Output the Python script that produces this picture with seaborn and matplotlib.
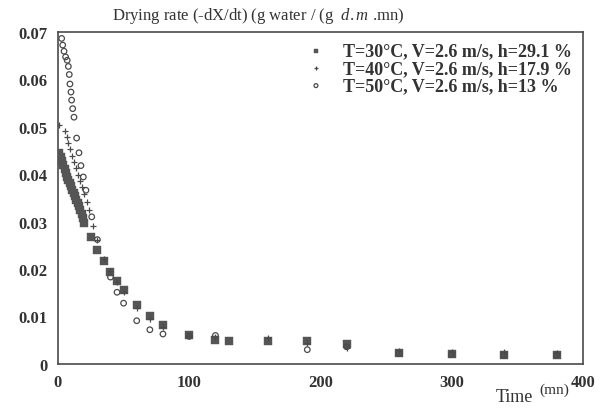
import seaborn as sns
import pandas as pd
import numpy as np
import matplotlib.pyplot as plt

# T=30 C series (filled squares)
t30 = [1, 2, 3, 4, 5, 6, 7, 8, 9, 10, 11, 12, 13, 14, 15, 16, 17, 18, 19, 20,
       25, 30, 35, 40, 45, 50, 60, 70, 80, 100, 120, 130, 160, 190, 220, 260, 300, 340, 380]
r30 = [0.0445, 0.0437, 0.0428, 0.0419, 0.0410, 0.0402, 0.0395, 0.0388, 0.0381, 0.0374,
       0.0367, 0.0360, 0.0353, 0.0346, 0.0339, 0.0332, 0.0325, 0.0317, 0.0308, 0.0296,
       0.0267, 0.0240, 0.0216, 0.0193, 0.0174, 0.0156, 0.0125, 0.0102, 0.0083, 0.0061,
       0.0051, 0.0049, 0.0049, 0.0048, 0.0041, 0.0023, 0.0020, 0.0018, 0.0018]

# T=40 C series (plus)
t40 = [1, 5, 6.5, 8, 9.5, 11, 12.5, 14, 15.5, 17, 18.5, 20, 22, 24, 27, 30, 35, 40, 45, 50,
       60, 70, 80, 100, 120, 160, 190, 220, 260, 300, 340, 380]
r40 = [0.0503, 0.0490, 0.0478, 0.0466, 0.0452, 0.0438, 0.0425, 0.0412, 0.0398, 0.0385,
       0.0372, 0.0358, 0.0341, 0.0325, 0.0290, 0.0262, 0.0222, 0.0195, 0.0172, 0.0152,
       0.0118, 0.0094, 0.0078, 0.0058, 0.0056, 0.0055, 0.0045, 0.0033, 0.0027, 0.0025,
       0.0025, 0.0023]

# T=50 C series (open circles)
t50 = [2.8, 3.6, 4.6, 5.8, 7.0, 7.9, 8.6, 9.1, 9.9, 10.4, 11.2, 12.2, 14.2, 16, 17.5, 19.3,
       21.3, 25.7, 30, 40, 45, 50, 60, 70, 80, 100, 120, 190, 220, 260, 300, 340, 380]
r50 = [0.0686, 0.0672, 0.0659, 0.0647, 0.0640, 0.0627, 0.0610, 0.0590, 0.0573, 0.0556,
       0.0538, 0.0520, 0.0476, 0.0445, 0.0418, 0.0394, 0.0366, 0.0310, 0.0262, 0.0183,
       0.0151, 0.0128, 0.0091, 0.0072, 0.0063, 0.0058, 0.0060, 0.0030, 0.0036, 0.0022,
       0.0020, 0.0019, 0.0019]

labels = ['T=30°C, V=2.6 m/s, h=29.1 %',
          'T=40°C, V=2.6 m/s, h=17.9 %',
          'T=50°C, V=2.6 m/s, h=13 %']

sns.set_style('white')
plt.rcParams['font.family'] = ['Liberation Serif', 'DejaVu Serif']
plt.rcParams['mathtext.fontset'] = 'custom'
plt.rcParams['mathtext.rm'] = 'Liberation Serif'
plt.rcParams['mathtext.it'] = 'Liberation Serif:italic'

fig = plt.figure(figsize=(6.04, 4.10), dpi=100)
ax = fig.add_axes([0.096, 0.11, 0.869, 0.81])

ink = '#4a4a4a'
sns.scatterplot(x=t30, y=r30, marker='s', s=26, color='#555555', edgecolor='#555555',
                linewidth=0.3, ax=ax, label=labels[0], zorder=3)
sns.scatterplot(x=t40, y=r40, marker='+', s=22, color=ink, linewidth=0.9,
                ax=ax, label=labels[1], zorder=4)
sns.scatterplot(x=t50, y=r50, marker='o', s=16, facecolor='none', edgecolor=ink,
                linewidth=0.9, ax=ax, label=labels[2], zorder=4)

ax.set_xlim(0, 400)
ax.set_ylim(0, 0.07)
ax.set_xticks([0, 100, 200, 300, 400])
ax.set_xticks([50, 150, 250, 350], minor=True)
ax.set_yticks(np.arange(0, 0.071, 0.01))
ax.set_yticklabels(['0', '0.01', '0.02', '0.03', '0.04', '0.05', '0.06', '0.07'])
ax.tick_params(axis='both', which='both', direction='out', color=ink, width=1,
               labelsize=12, labelcolor='#333333')
ax.tick_params(axis='both', which='major', length=4)
ax.tick_params(axis='x', which='minor', length=3)
for lab in ax.get_yticklabels() + ax.get_xticklabels():
    lab.set_fontweight('bold')
for sp in ax.spines.values():
    sp.set_color(ink)
    sp.set_linewidth(1.2)

fig.text(0.185, 0.962, 'Drying rate (-dX/dt) (g water / (g  $\\it{d.m}$ .mn)',
         fontsize=12, color='#333333', va='center')
fig.text(0.82, 0.03, 'Time', fontsize=13, color='#333333', va='center')
fig.text(0.893, 0.047, '(mn)', fontsize=11, color='#333333', va='center')

leg = ax.legend(loc='upper right', frameon=False, handletextpad=0.5,
                labelspacing=0.02, borderaxespad=0.2, markerscale=0.7,
                prop={'size': 13, 'weight': 'bold'})
for t in leg.get_texts():
    t.set_color('#333333')

fig.savefig('out.png', dpi=100, facecolor='white')
